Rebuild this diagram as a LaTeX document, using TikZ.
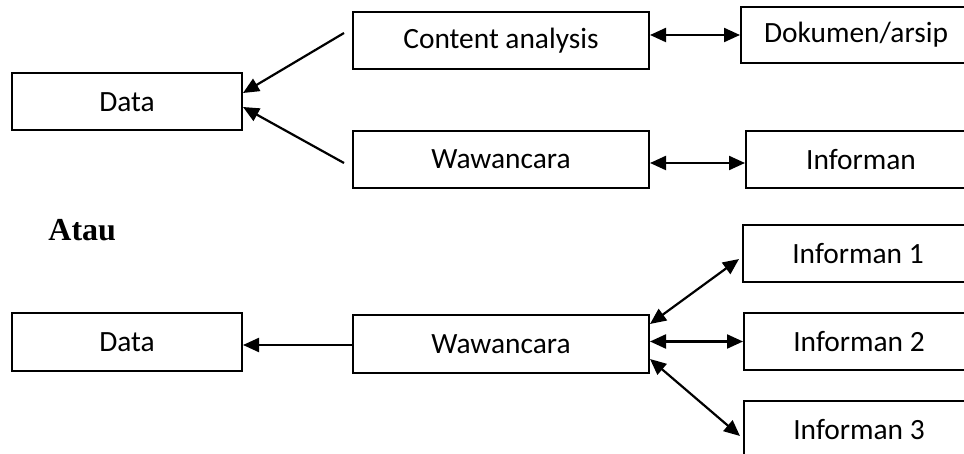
\documentclass[tikz,border=0pt]{standalone}
\usepackage{fontspec}
\setmainfont{Carlito}
\newfontfamily\ataufont{Liberation Serif}
\usetikzlibrary{arrows.meta, positioning}

\begin{document}
\begin{tikzpicture}[
    x=0.5pt, y=-0.5pt,
    font=\fontsize{14.7pt}{17pt}\selectfont,
    srcbox/.style={draw, line width=1pt, inner sep=0pt, align=center,
      minimum width=115pt, minimum height=28.5pt},
    widebox/.style={srcbox, minimum width=148pt},
    arr/.style={-{Triangle[length=8pt, width=7pt]}, line width=1.1pt},
    biarr/.style={{Triangle[length=8pt, width=7pt]}-{Triangle[length=8pt, width=7pt]}, line width=1.1pt}
  ]
  \useasboundingbox (0,0) rectangle (964,454);
  \clip (0,0) rectangle (964,454);

  % upper scheme
  \node[srcbox] (data) at (127,102) {Data};
  \node[widebox] (ca) at (501,40.5) {Content analysis};
  \node[widebox] (ww) at (501,159.5) {Wawancara};
  \node[srcbox, minimum height=28pt] (dok) at (856,35) {Dokumen/arsip};
  \node[srcbox, right=47.5pt of ww] (inf) {Informan};

  \draw[arr] ([shift={(-4pt,3.75pt)}]ca.west) -- ([yshift=4.5pt]data.east);
  \draw[arr] ([shift={(-4pt,-1.75pt)}]ww.west) -- ([yshift=-2.5pt]data.east);
  \draw[biarr] (ca.east |- dok.west) -- (dok.west);
  \draw[biarr] ([yshift=-1.75pt]ww.east) -- ([yshift=-1.75pt]ww.east -| inf.west);

  \node[anchor=base west, inner sep=0pt, font=\ataufont\bfseries\fontsize{16pt}{19pt}\selectfont]
    (atau) at (48,241) {Atau};

  % lower scheme
  \node[srcbox] (data2) at (127,342) {Data};
  \node[widebox] (ww2) at (501,344) {Wawancara};
  \node[srcbox] (inf1) at (858,253.5) {Informan 1};
  \node[srcbox] (inf2) at (859,341.5) {Informan 2};
  \node[srcbox] (inf3) at (859,429.5) {Informan 3};

  \draw[arr] ([yshift=-0.5pt]ww2.west) -- ([yshift=-0.5pt]ww2.west -| data2.east);
  \draw[biarr] ([yshift=10pt]ww2.east) -- ([shift={(-1.5pt,-2.75pt)}]inf1.west);
  \draw[biarr] (inf2.west -| ww2.east) -- (inf2.west);
  \draw[biarr] ([yshift=-7.5pt]ww2.east) -- ([shift={(-1.5pt,-3.25pt)}]inf3.west);
\end{tikzpicture}
\end{document}
